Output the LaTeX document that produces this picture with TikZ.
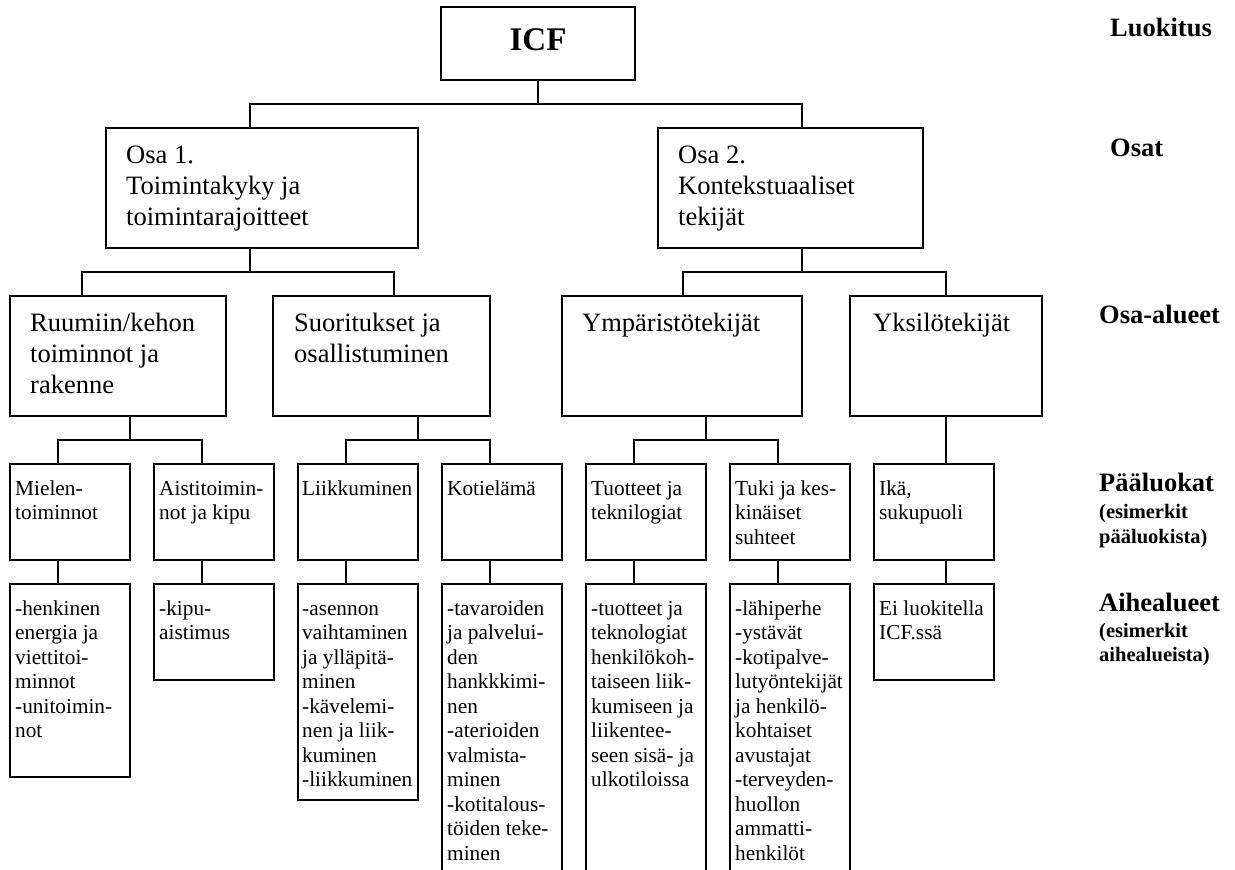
\documentclass[tikz,border=0pt]{standalone}
\usepackage{fontspec}
\setmainfont{Liberation Serif}
\usetikzlibrary{calc}
\newcommand\firstln{\rule{0pt}{0.7em}}
\begin{document}
\begin{tikzpicture}[x=1pt,y=-1pt,
  bx/.style={draw, line width=1.7pt, inner sep=0pt, outer sep=0pt, anchor=north west},
  conn/.style={line width=1.3pt},
  tl/.style={anchor=north west, inner sep=0pt, align=left, font=\fontsize{26.5}{31}\selectfont},
  ts/.style={anchor=north west, inner sep=0pt, align=left, font=\fontsize{21.3}{24.5}\selectfont},
  lab/.style={anchor=base west, inner sep=0pt, font=\bfseries\fontsize{26.5}{31}\selectfont},
  labs/.style={anchor=north west, inner sep=0pt, align=left, font=\bfseries\fontsize{20.5}{24.5}\selectfont}]

\useasboundingbox (0,0) rectangle (1235,870);
\clip (0,0) rectangle (1235,870);

% ---- boxes ----
\node[bx, minimum width=194pt, minimum height=73pt] (icf) at (441,7) {};
\node[anchor=base, inner sep=0pt, font=\bfseries\fontsize{33}{36}\selectfont] (icf-t) at ([yshift=-6.5pt]icf.center) {ICF};

\node[bx, minimum width=312pt, minimum height=120pt] (osa1) at (106,128) {};
\node[bx, minimum width=265pt, minimum height=120pt] (osa2) at (658,128) {};

\node[bx, minimum width=216pt, minimum height=120pt] (ruum) at (10,296) {};
\node[bx, minimum width=217pt, minimum height=120pt] (suor) at (273,296) {};
\node[bx, minimum width=240pt, minimum height=120pt] (ymp) at (562,296) {};
\node[bx, minimum width=192pt, minimum height=120pt] (yks) at (850,296) {};

\node[bx, minimum width=120pt, minimum height=96pt] (miel) at (10,464) {};
\node[bx, minimum width=120pt, minimum height=96pt] (aist) at (154,464) {};
\node[bx, minimum width=120pt, minimum height=96pt] (liik) at (298,464) {};
\node[bx, minimum width=120pt, minimum height=96pt] (koti) at (442,464) {};
\node[bx, minimum width=120pt, minimum height=96pt] (tuot) at (586,464) {};
\node[bx, minimum width=120pt, minimum height=96pt] (tuki) at (730,464) {};
\node[bx, minimum width=120pt, minimum height=96pt] (ika) at (874,464) {};

\node[bx, minimum width=120pt, minimum height=193pt] (miel5) at (10,584) {};
\node[bx, minimum width=120pt, minimum height=96pt] (aist5) at (154,584) {};
\node[bx, minimum width=120pt, minimum height=216pt] (liik5) at (298,584) {};
\node[bx, minimum width=120pt, minimum height=320pt] (koti5) at (442,584) {};
\node[bx, minimum width=120pt, minimum height=320pt] (tuot5) at (586,584) {};
\node[bx, minimum width=120pt, minimum height=320pt] (tuki5) at (730,584) {};
\node[bx, minimum width=120pt, minimum height=96pt] (ika5) at (874,584) {};

% ---- texts ----
\node[tl] (t-osa1) at ([xshift=20pt,yshift=-17pt]osa1.north west) {\firstln Osa 1.\\Toimintakyky ja\\toimintarajoitteet};
\node[tl] (t-osa2) at ([xshift=20pt,yshift=-17pt]osa2.north west) {\firstln Osa 2.\\Kontekstuaaliset\\tekijät};

\node[tl] (t-ruum) at ([xshift=20pt,yshift=-17pt]ruum.north west) {\firstln Ruumiin/kehon\\toiminnot ja\\rakenne};
\node[tl] (t-suor) at ([xshift=21pt,yshift=-17pt]suor.north west) {\firstln Suoritukset ja\\osallistuminen};
\node[tl] (t-ymp) at ([xshift=20pt,yshift=-17pt]ymp.north west) {\firstln Ympäristötekijät};
\node[tl] (t-yks) at ([xshift=23pt,yshift=-17pt]yks.north west) {\firstln Yksilötekijät};

\node[ts] (t-miel) at ([xshift=5pt,yshift=-16pt]miel.north west) {\firstln Mielen-\\toiminnot};
\node[ts] (t-aist) at ([xshift=5pt,yshift=-16pt]aist.north west) {\firstln Aistitoimin-\\not ja kipu};
\node[ts] (t-liik) at ([xshift=4pt,yshift=-16pt]liik.north west) {\firstln Liikkuminen};
\node[ts] (t-koti) at ([xshift=5pt,yshift=-16pt]koti.north west) {\firstln Kotielämä};
\node[ts] (t-tuot) at ([xshift=5pt,yshift=-16pt]tuot.north west) {\firstln Tuotteet ja\\teknilogiat};
\node[ts] (t-tuki) at ([xshift=5pt,yshift=-16pt]tuki.north west) {\firstln Tuki ja kes-\\kinäiset\\suhteet};
\node[ts] (t-ika) at ([xshift=5pt,yshift=-16pt]ika.north west) {\firstln Ikä,\\sukupuoli};

\node[ts] (t-miel5) at ([xshift=5pt,yshift=-16pt]miel5.north west) {\firstln -henkinen\\energia ja\\viettitoi-\\minnot\\-unitoimin-\\not};
\node[ts] (t-aist5) at ([xshift=5pt,yshift=-16pt]aist5.north west) {\firstln -kipu-\\aistimus};
\node[ts] (t-liik5) at ([xshift=4pt,yshift=-16pt]liik5.north west) {\firstln -asennon\\vaihtaminen\\ja ylläpitä-\\minen\\-kävelemi-\\nen ja liik-\\kuminen\\-liikkuminen};
\node[ts] (t-koti5) at ([xshift=5pt,yshift=-16pt]koti5.north west) {\firstln -tavaroiden\\ja palvelui-\\den\\hankkkimi-\\nen\\-aterioiden\\valmista-\\minen\\-kotitalous-\\töiden teke-\\minen};
\node[ts] (t-tuot5) at ([xshift=5pt,yshift=-16pt]tuot5.north west) {\firstln -tuotteet ja\\teknologiat\\henkilökoh-\\taiseen liik-\\kumiseen ja\\liikentee-\\seen sisä- ja\\ulkotiloissa};
\node[ts] (t-tuki5) at ([xshift=5pt,yshift=-16pt]tuki5.north west) {\firstln -lähiperhe\\-ystävät\\-kotipalve-\\lutyöntekijät\\ja henkilö-\\kohtaiset\\avustajat\\-terveyden-\\huollon\\ammatti-\\henkilöt};
\node[ts] (t-ika5) at ([xshift=5pt,yshift=-16pt]ika5.north west) {\firstln Ei luokitella\\ICF.ssä};

% ---- right-hand labels ----
\node[lab] (l-luok) at (1110,36) {Luokitus};
\node[lab] (l-osat) at (1110,156.5) {Osat};
\node[lab] (l-osaal) at (1099,323.5) {Osa-alueet};
\node[lab] (l-paa) at (1099,491.5) {Pääluokat};
\node[labs] (l-paa2) at (1099,504) {\firstln (esimerkit\\pääluokista)};
\node[lab] (l-aihe) at (1099,611.5) {Aihealueet};
\node[labs] (l-aihe2) at (1099,622.5) {\firstln (esimerkit\\aihealueista)};

% ---- connectors ----
\coordinate (b0) at (538,104);
\draw[conn] (icf.south) -- (b0);
\draw[conn] ([xshift=144pt]osa1.north west) |- (b0) -| ([xshift=144pt]osa2.north west);

\coordinate (b1) at (250,272);
\draw[conn] ([xshift=144pt]osa1.south west) -- (b1);
\draw[conn] ([xshift=72pt]ruum.north west) |- (b1) -| ([xshift=121pt]suor.north west);

\coordinate (b2) at (802,272);
\draw[conn] ([xshift=144pt]osa2.south west) -- (b2);
\draw[conn] ([xshift=121pt]ymp.north west) |- (b2) -| (yks.north);

\coordinate (b3) at (130,440);
\draw[conn] ([xshift=120pt]ruum.south west) -- (b3);
\draw[conn] ([xshift=48pt]miel.north west) |- (b3) -| ([xshift=48pt]aist.north west);

\coordinate (b4) at (418,440);
\draw[conn] ([xshift=145pt]suor.south west) -- (b4);
\draw[conn] ([xshift=48pt]liik.north west) |- (b4) -| ([xshift=48pt]koti.north west);

\coordinate (b5) at (706,440);
\draw[conn] ([xshift=144pt]ymp.south west) -- (b5);
\draw[conn] ([xshift=48pt]tuot.north west) |- (b5) -| ([xshift=48pt]tuki.north west);

\draw[conn] (yks.south) -- ([xshift=72pt]ika.north west);

\draw[conn] ([xshift=48pt]miel.south west) -- ([xshift=48pt]miel5.north west);
\draw[conn] ([xshift=48pt]aist.south west) -- ([xshift=48pt]aist5.north west);
\draw[conn] ([xshift=48pt]liik.south west) -- ([xshift=48pt]liik5.north west);
\draw[conn] ([xshift=48pt]koti.south west) -- ([xshift=48pt]koti5.north west);
\draw[conn] ([xshift=48pt]tuot.south west) -- ([xshift=48pt]tuot5.north west);
\draw[conn] ([xshift=48pt]tuki.south west) -- ([xshift=48pt]tuki5.north west);
\draw[conn] ([xshift=72pt]ika.south west) -- ([xshift=72pt]ika5.north west);
\end{tikzpicture}
\end{document}
